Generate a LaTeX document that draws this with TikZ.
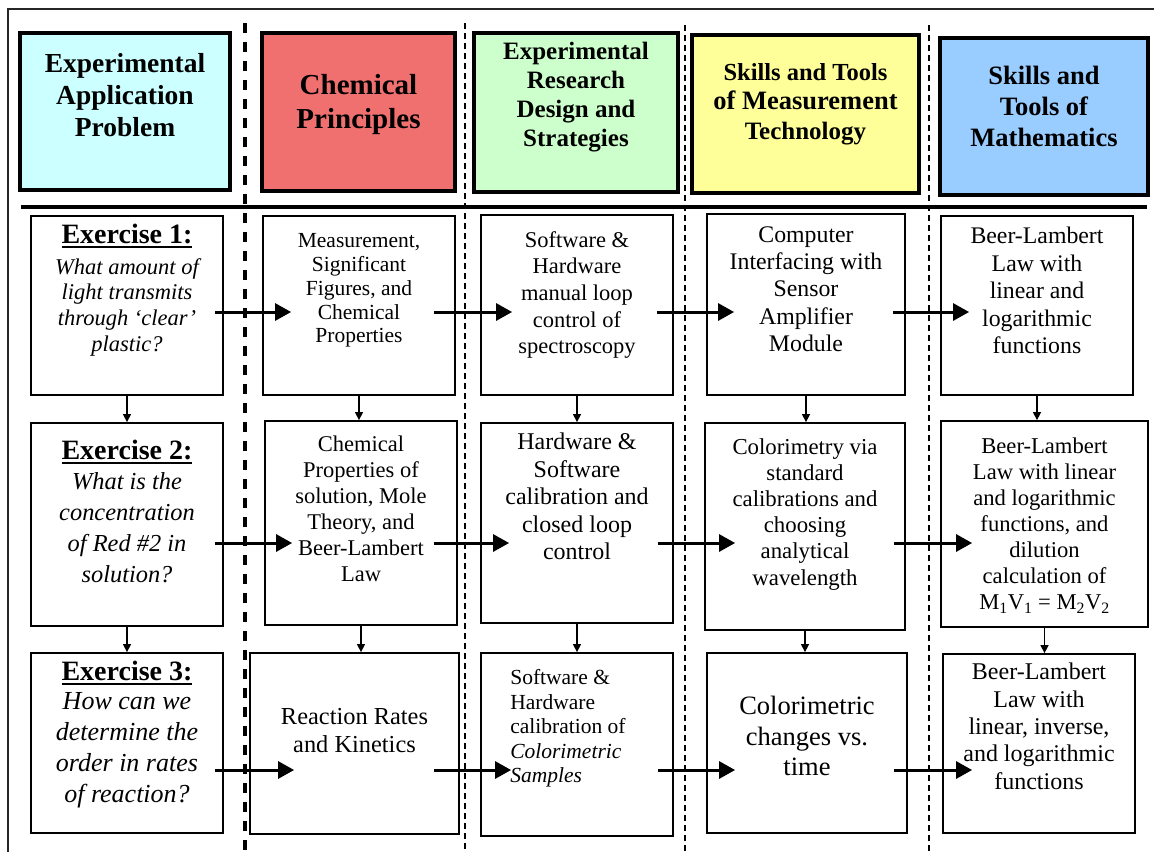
\documentclass[tikz,border=0pt]{standalone}
\usepackage{fontspec}
\setmainfont{Liberation Serif}
\usetikzlibrary{positioning,arrows.meta}

\definecolor{aqua}{HTML}{CCFFFF}
\definecolor{salmon}{RGB}{240,112,112}
\definecolor{mint}{HTML}{CCFFCC}
\definecolor{lemon}{HTML}{FFFF99}
\definecolor{sky}{HTML}{99CCFF}

% font size in pt with baselineskip
\newcommand{\fs}[2]{\fontsize{#1pt}{#2pt}\selectfont}
% underlined exercise title
\newcommand{\exline}[1]{\vtop{\hbox{#1}\kern2pt\hrule height 1.8pt}}

\tikzset{
  hbox/.style={draw, line width=4pt, inner sep=0pt},
  cell/.style={draw, line width=1.8pt, inner sep=0pt},
  ctext/.style={align=center, inner sep=0pt},
  flow/.style={line width=3pt, -{Triangle[length=16pt,width=17pt]}},
  vflow/.style={line width=1.4pt, -{Triangle[length=8pt,width=8pt]}},
}

\begin{document}
\begin{tikzpicture}[x=1pt,y=-1pt]
\useasboundingbox (0,0) rectangle (1154,852);

% frame and column dividers
\draw[line width=1.5pt, black!85] (8,852) -- (8,9) -- (1154,9);
\draw[line width=3.5pt, dash pattern=on 10pt off 9pt] (245,23) -- (245,852);
\foreach \x/\y in {465/23, 685/25, 929/25}
  \draw[line width=1.5pt, dash pattern=on 6pt off 4pt] (\x,\y) -- (\x,852);
\draw[line width=3.5pt] (21,207) -- (1147,207);

% column headers
\node[hbox, fill=aqua, minimum width=210pt, minimum height=157pt] (hex) at (125,111.5) {};
\node[ctext, font=\bfseries\fs{27.5}{32}, below=22pt of hex.north] (hex-t) {Experimental\\Application\\Problem};
\node[hbox, fill=salmon, minimum width=193pt, minimum height=158pt] (hchem) at (358.5,112) {};
\node[ctext, font=\bfseries\fs{29}{34}, below=43pt of hchem.north] (hchem-t) {Chemical\\Principles};
\node[hbox, fill=mint, minimum width=204pt, minimum height=159pt] (hdes) at (576,112.5) {};
\node[ctext, font=\bfseries\fs{25}{29}, below=11pt of hdes.north] (hdes-t) {Experimental\\Research\\Design and\\Strategies};
\node[hbox, fill=lemon, minimum width=227pt, minimum height=158pt] (hmeas) at (805.5,114) {};
\node[ctext, font=\bfseries\fs{24.5}{29.5}, below=30pt of hmeas.north] (hmeas-t) {Skills and Tools\\{\fs{26.5}{29.5}of Measurement}\\{\fs{25}{29.5}Technology}};
\node[hbox, fill=sky, minimum width=208pt, minimum height=157pt] (hmath) at (1044,116.5) {};
\node[ctext, font=\bfseries\fs{26.5}{31}, below=30pt of hmath.north] (hmath-t) {Skills and\\Tools of\\Mathematics};

% exercise 1
\node[cell, minimum width=192pt, minimum height=179pt] (ex1) at (127,305.5) {};
\node[ctext, font=\bfseries\fs{28}{31}, below=9pt of ex1.north] (ex1-h) {\exline{Exercise 1:}};
\node[ctext, font=\itshape\fs{22.5}{25.7}, below=43pt of ex1.north] (ex1-t) {What amount of\\light transmits\\through ‘clear’\\plastic?};
\node[cell, minimum width=192pt, minimum height=179pt] (chem1) at (359,305.5) {};
\node[ctext, font=\fs{21.5}{23.9}, below=18pt of chem1.north] (chem1-t) {Measurement,\\Significant\\Figures, and\\Chemical\\Properties};
\node[cell, minimum width=192pt, minimum height=180pt] (des1) at (577,305) {};
\node[ctext, font=\fs{22.5}{26.7}, below=17pt of des1.north] (des1-t) {Software \&\\Hardware\\manual loop\\control of\\spectroscopy};
\node[cell, minimum width=198pt, minimum height=181pt] (meas1) at (806,304.5) {};
\node[ctext, font=\fs{23.8}{27.4}, below=13pt of meas1.north] (meas1-t) {Computer\\Interfacing with\\Sensor\\Amplifier\\Module};
\node[cell, minimum width=192pt, minimum height=179pt] (math1) at (1037,305.5) {};
\node[ctext, font=\fs{23.8}{27.4}, below=12pt of math1.north] (math1-t) {Beer-Lambert\\Law with\\linear and\\logarithmic\\functions};

% exercise 2
\node[cell, minimum width=192pt, minimum height=203pt] (ex2) at (127,524.5) {};
\node[ctext, font=\bfseries\fs{28}{31}, below=18pt of ex2.north] (ex2-h) {\exline{Exercise 2:}};
\node[ctext, font=\itshape\fs{24.4}{31}, below=50pt of ex2.north] (ex2-t) {What is the\\concentration\\of Red \#2 in\\solution?};
\node[cell, minimum width=192pt, minimum height=204pt] (chem2) at (361,523) {};
\node[ctext, font=\fs{22.5}{26}, below=16pt of chem2.north] (chem2-t) {Chemical\\Properties of\\solution, Mole\\Theory, and\\Beer-Lambert\\Law};
\node[cell, minimum width=192pt, minimum height=200pt] (des2) at (577,523) {};
\node[ctext, font=\fs{24}{27.5}, below=11pt of des2.north] (des2-t) {Hardware \&\\Software\\calibration and\\closed loop\\control};
\node[cell, minimum width=200pt, minimum height=207pt] (meas2) at (805,526.5) {};
\node[ctext, font=\fs{22.8}{26.2}, below=16pt of meas2.north] (meas2-t) {Colorimetry via\\standard\\calibrations and\\choosing\\analytical\\wavelength};
\node[cell, minimum width=207pt, minimum height=206pt] (math2) at (1044.5,524) {};
\node[ctext, font=\fs{22.6}{26}, below=18pt of math2.north] (math2-t) {Beer-Lambert\\Law with linear\\and logarithmic\\functions, and\\dilution\\calculation of\\M\textsubscript{1}V\textsubscript{1} = M\textsubscript{2}V\textsubscript{2}};

% exercise 3
\node[cell, minimum width=192pt, minimum height=180pt] (ex3) at (127,743) {};
\node[ctext, font=\bfseries\fs{28}{31}, below=9pt of ex3.north] (ex3-h) {\exline{Exercise 3:}};
\node[ctext, font=\itshape\fs{26}{31}, below=40pt of ex3.north] (ex3-t) {How can we\\determine the\\order in rates\\of reaction?};
\node[cell, minimum width=209pt, minimum height=181pt] (chem3) at (354.5,743.5) {};
\node[ctext, font=\fs{24.4}{28}, below=56pt of chem3.north] (chem3-t) {Reaction Rates\\and Kinetics};
\node[cell, minimum width=192pt, minimum height=183pt] (des3) at (577,744.5) {};
\node[align=left, inner sep=0pt, font=\fs{21.5}{24.6}, below right=17pt and 30pt of des3.north west] (des3-t) {Software \&\\Hardware\\calibration of\\\textit{Colorimetric}\\\textit{Samples}};
\node[cell, minimum width=200pt, minimum height=180pt] (meas3) at (807,743) {};
\node[ctext, font=\fs{26.5}{30.5}, below=44pt of meas3.north] (meas3-t) {Colorimetric\\changes vs.\\time};
\node[cell, minimum width=192pt, minimum height=179pt] (math3) at (1039,743.5) {};
\node[ctext, font=\fs{24}{27.3}, below=10pt of math3.north] (math3-t) {Beer-Lambert\\Law with\\linear, inverse,\\and logarithmic\\functions};

% arrows along each row
\coordinate (r1) at (0,312);
\coordinate (r2) at (0,543);
\coordinate (r3) at (0,770);
\draw[flow, shorten <=-9pt, shorten >=-29pt] (ex1.east |- r1) -- (chem1.west |- r1);
\draw[flow, shorten <=-22pt, shorten >=-32pt] (chem1.east |- r1) -- (des1.west |- r1);
\draw[flow, shorten <=-17pt, shorten >=-28pt] (des1.east |- r1) -- (meas1.west |- r1);
\draw[flow, shorten <=-13pt, shorten >=-29pt] (meas1.east |- r1) -- (math1.west |- r1);
\draw[flow, shorten <=-9pt, shorten >=-28pt] (ex2.east |- r2) -- (chem2.west |- r2);
\draw[flow, shorten <=-24pt, shorten >=-29pt] (chem2.east |- r2) -- (des2.west |- r2);
\draw[flow, shorten <=-16pt, shorten >=-31pt] (des2.east |- r2) -- (meas2.west |- r2);
\draw[flow, shorten <=-12pt, shorten >=-32pt] (meas2.east |- r2) -- (math2.west |- r2);
\draw[flow, shorten <=-9pt, shorten >=-45pt] (ex3.east |- r3) -- (chem3.west |- r3);
\draw[flow, shorten <=-26pt, shorten >=-31pt] (chem3.east |- r3) -- (des3.west |- r3);
\draw[flow, shorten <=-16pt, shorten >=-29pt] (des3.east |- r3) -- (meas3.west |- r3);
\draw[flow, shorten <=-14pt, shorten >=-30pt] (meas3.east |- r3) -- (math3.west |- r3);

% arrows down each column
\foreach \c in {ex,chem,des,meas,math} {
  \draw[vflow] (\c1.south) -- (\c1.south |- \c2.north);
  \draw[vflow] (\c2.south) -- (\c2.south |- \c3.north);
}

\end{tikzpicture}
\end{document}
